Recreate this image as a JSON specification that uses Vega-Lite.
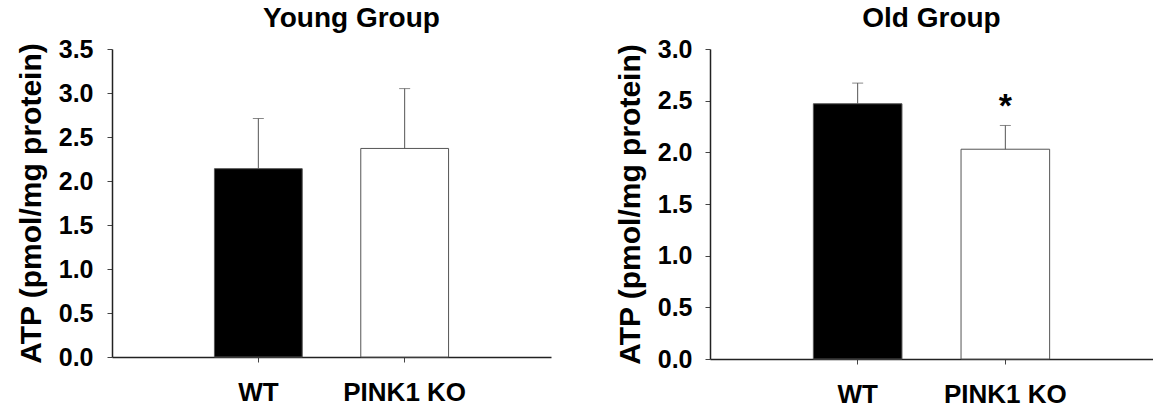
{
  "$schema": "https://vega.github.io/schema/vega-lite/v6.json",
  "padding": {"left": 16, "top": 5, "right": 0, "bottom": 0},
  "background": "white",
  "datasets": {
    "atp": [
      {"group": "Young", "genotype": "WT", "atp": 2.14, "upper": 2.71, "sig": ""},
      {"group": "Young", "genotype": "PINK1 KO", "atp": 2.37, "upper": 3.05, "sig": ""},
      {"group": "Old", "genotype": "WT", "atp": 2.47, "upper": 2.67, "sig": ""},
      {"group": "Old", "genotype": "PINK1 KO", "atp": 2.03, "upper": 2.26, "sig": "*"}
    ]
  },
  "config": {
    "font": "Liberation Sans",
    "view": {"stroke": null},
    "title": {"fontSize": 28, "fontWeight": "bold", "color": "#000", "offset": 0},
    "axis": {
      "grid": false,
      "domainColor": "#222",
      "domainWidth": 1.5,
      "tickColor": "#444",
      "tickSize": 5,
      "labelFontSize": 25,
      "labelFontWeight": "bold",
      "labelColor": "#000",
      "titleFontSize": 30,
      "titleFontWeight": "bold",
      "titleColor": "#000"
    }
  },
  "spacing": 64,
  "hconcat": [
    {
      "width": 439,
      "height": 308,
      "title": {"text": "Young Group", "dx": 20},
      "data": {"name": "atp"},
      "transform": [{"filter": "datum.group === 'Young'"}],
      "encoding": {
        "x": {
          "field": "genotype", "type": "nominal", "sort": ["WT", "PINK1 KO"],
          "scale": {"paddingInner": 0.4, "paddingOuter": 0.7},
          "axis": {"title": null, "labelAngle": 0, "labelPadding": 17, "labelFontSize": 26}
        }
      },
      "layer": [
        {
          "mark": {"type": "bar", "stroke": "#555", "strokeWidth": 1},
          "encoding": {
            "y": {
              "field": "atp", "type": "quantitative",
              "scale": {"domain": [0, 3.5]},
              "axis": {"title": "ATP (pmol/mg protein)", "values": [0, 0.5, 1, 1.5, 2, 2.5, 3, 3.5], "format": ".1f", "labelPadding": 14, "titlePadding": 12}
            },
            "fill": {"field": "genotype", "type": "nominal", "scale": {"domain": ["WT", "PINK1 KO"], "range": ["#000000", "#ffffff"]}, "legend": null}
          }
        },
        {
          "mark": {"type": "rule", "color": "#555", "strokeWidth": 1},
          "encoding": {"y": {"field": "atp", "type": "quantitative"}, "y2": {"field": "upper"}}
        },
        {
          "mark": {"type": "tick", "color": "#555", "size": 11, "thickness": 1},
          "encoding": {"y": {"field": "upper", "type": "quantitative"}}
        }
      ]
    },
    {
      "width": 443,
      "height": 310,
      "title": {"text": "Old Group"},
      "data": {"name": "atp"},
      "transform": [{"filter": "datum.group === 'Old'"}],
      "encoding": {
        "x": {
          "field": "genotype", "type": "nominal", "sort": ["WT", "PINK1 KO"],
          "scale": {"paddingInner": 0.4, "paddingOuter": 0.7},
          "axis": {"title": null, "labelAngle": 0, "labelPadding": 17, "labelFontSize": 26}
        }
      },
      "layer": [
        {
          "mark": {"type": "bar", "stroke": "#555", "strokeWidth": 1},
          "encoding": {
            "y": {
              "field": "atp", "type": "quantitative",
              "scale": {"domain": [0, 3.0]},
              "axis": {"title": "ATP (pmol/mg protein)", "values": [0, 0.5, 1, 1.5, 2, 2.5, 3], "format": ".1f", "labelPadding": 13, "titlePadding": 12}
            },
            "fill": {"field": "genotype", "type": "nominal", "scale": {"domain": ["WT", "PINK1 KO"], "range": ["#000000", "#ffffff"]}, "legend": null}
          }
        },
        {
          "mark": {"type": "rule", "color": "#555", "strokeWidth": 1},
          "encoding": {"y": {"field": "atp", "type": "quantitative"}, "y2": {"field": "upper"}}
        },
        {
          "mark": {"type": "tick", "color": "#555", "size": 11, "thickness": 1},
          "encoding": {"y": {"field": "upper", "type": "quantitative"}}
        },
        {
          "mark": {"type": "text", "fontSize": 34, "fontWeight": "bold", "color": "#000", "baseline": "alphabetic", "dy": -8},
          "encoding": {"y": {"field": "upper", "type": "quantitative"}, "text": {"field": "sig"}}
        }
      ]
    }
  ]
}
